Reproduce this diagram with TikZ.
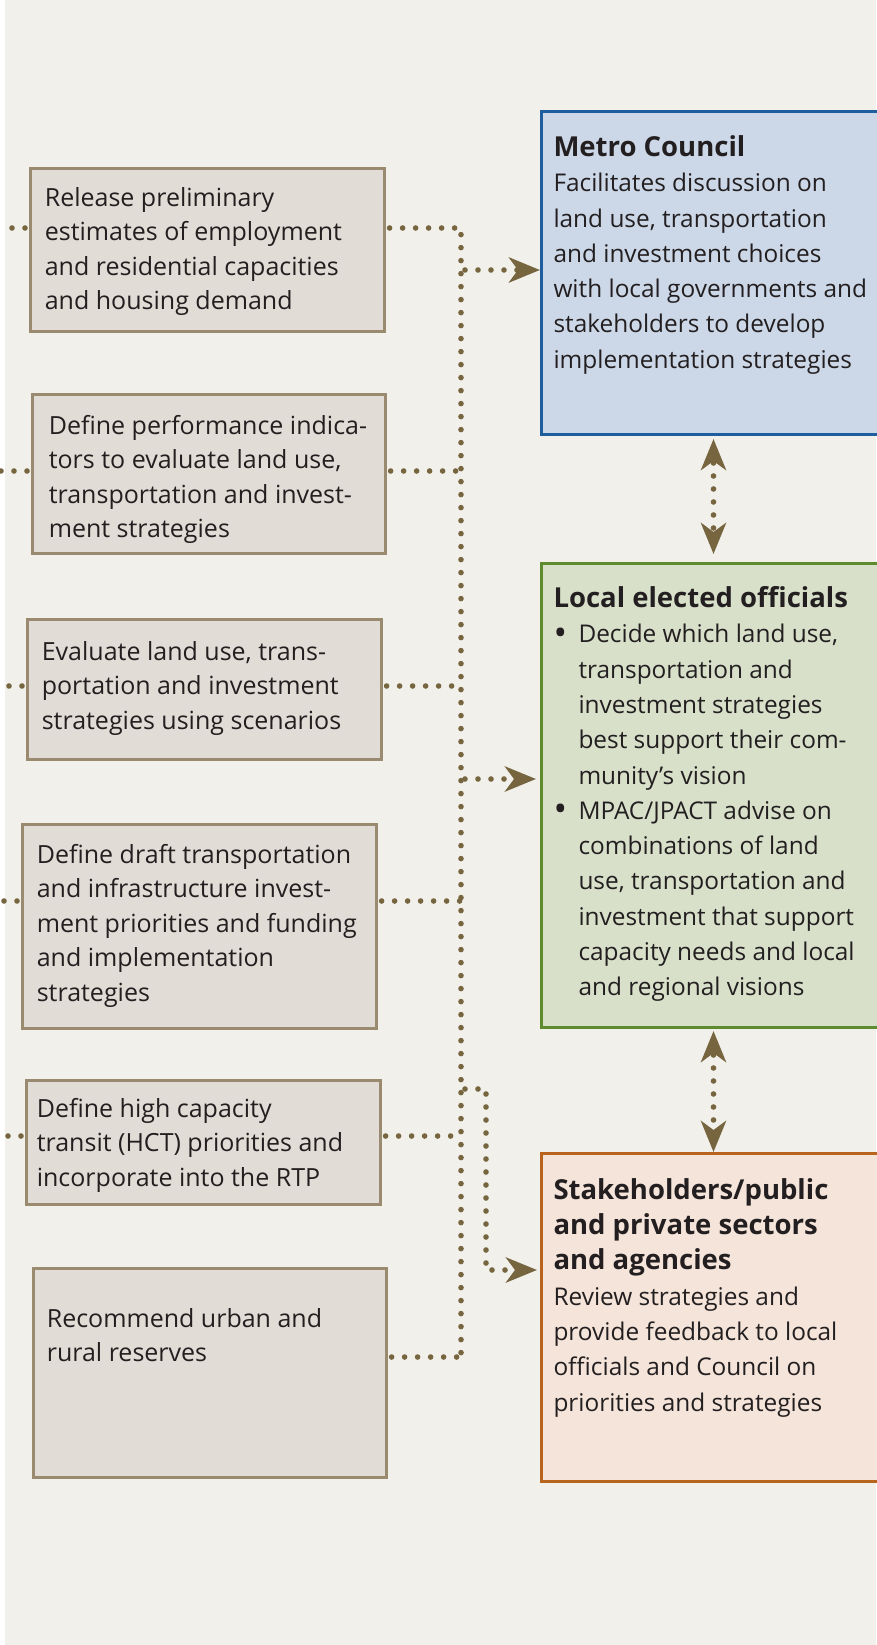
\documentclass[tikz,border=0pt]{standalone}
\usepackage{fontspec}
\setmainfont{Open Sans}
\usetikzlibrary{arrows.meta}
\definecolor{bgcol}{rgb}{0.945, 0.941, 0.922}
\definecolor{stagefill}{rgb}{0.882, 0.867, 0.839}
\definecolor{stageline}{rgb}{0.604, 0.545, 0.439}
\definecolor{dotcol}{rgb}{0.463, 0.396, 0.247}
\definecolor{metrofill}{rgb}{0.8, 0.847, 0.91}
\definecolor{metroline}{rgb}{0.122, 0.369, 0.62}
\definecolor{localfill}{rgb}{0.847, 0.878, 0.792}
\definecolor{localline}{rgb}{0.373, 0.545, 0.184}
\definecolor{stakefill}{rgb}{0.957, 0.894, 0.851}
\definecolor{stakeline}{rgb}{0.722, 0.392, 0.11}
\definecolor{ink}{rgb}{0.137, 0.122, 0.125}

% width, height, first baseline, left pad, text
\newcommand{\boxtext}[5]{\parbox[t][#2][t]{#1}{\raggedright\leftskip=#4\rule{0pt}{#3}#5}}
\newcommand{\head}[1]{{\fontsize{27.5}{35}\selectfont\bfseries #1}}
\newcommand{\bulletitem}{\par\leftskip=37pt\noindent\llap{\makebox[25pt][l]{\fontsize{36}{36}\selectfont\raisebox{-2.6pt}{\textbullet}}}}

\tikzset{
  stagebox/.style={draw=stageline, fill=stagefill, line width=2.6pt, inner sep=0pt,
    anchor=north west, text=ink, font=\fontsize{25}{34.5}\selectfont},
  groupbox/.style={line width=3pt, inner sep=0pt, anchor=north west, text=ink,
    font=\fontsize{24.4}{35.3}\selectfont},
  dotline/.style={draw=dotcol, line width=5.6pt, line cap=round,
    dash pattern=on 0pt off 13pt, dash phase=9pt}
}

\begin{document}
\begin{tikzpicture}[x=1pt, y=-1pt, >={Stealth[length=31pt, width=25pt, inset=9pt]}]
      \useasboundingbox (0, 0) rectangle (876, 1645);
      \fill [bgcol] (0, 0) rectangle (876, 1645);
      \fill [white] (0, 0) rectangle (5, 1645);

      % steps on the left
      \node [stagebox] (release) at (29, 167) {\boxtext{354pt}{163pt}{38pt}{14.5pt}{Release preliminary\\estimates of employment\\and residential capacities\\and housing demand}};
      \node [stagebox] (indicators) at (31, 393) {\boxtext{353pt}{159pt}{40pt}{16.5pt}{Define performance indica-\\tors to evaluate land use,\\transportation and invest-\\ment strategies}};
      \node [stagebox] (scenarios) at (26, 618) {\boxtext{354pt}{140pt}{41pt}{14.5pt}{Evaluate land use, trans-\\portation and investment\\strategies using scenarios}};
      \node [stagebox] (funding) at (21, 823) {\boxtext{354pt}{204pt}{39pt}{14.5pt}{Define draft transportation\\and infrastructure invest-\\ment priorities and funding\\and implementation\\strategies}};
      \node [stagebox] (transit) at (25, 1079) {\boxtext{354pt}{124pt}{37pt}{10.5pt}{Define high capacity\\transit (HCT) priorities and\\incorporate into the RTP}};
      \node [stagebox] (reserves) at (32, 1267) {\boxtext{353pt}{209pt}{59pt}{13.5pt}{Recommend urban and\\rural reserves}};

      % groups on the right
      \node [groupbox, draw=metroline, fill=metrofill] (metro) at (540, 110) {\boxtext{344pt}{323pt}{45pt}{12pt}{\head{Metro Council}\\Facilitates discussion on\\land use, transportation\\and investment choices\\with local governments and\\stakeholders to develop\\implementation strategies}};
      \node [groupbox, draw=localline, fill=localfill] (local) at (540, 562) {\boxtext{344pt}{464pt}{44pt}{12pt}{\head{Local elected officials}\bulletitem Decide which land use,\\transportation and\\investment strategies\\best support their com-\\munity’s vision\bulletitem MPAC/JPACT advise on\\combinations of land\\use, transportation and\\investment that support\\capacity needs and local\\and regional visions}};
      \node [groupbox, draw=stakeline, fill=stakefill] (stake) at (540, 1152) {\boxtext{344pt}{328pt}{46pt}{12pt}{\head{Stakeholders/public\\and private sectors\\and agencies}\\Review strategies and\\provide feedback to local\\officials and Council on\\priorities and strategies}};

      % dotted bus
      \coordinate (bustop) at (461, 228);
      \coordinate (busend) at (461, 1357);
      \coordinate (tometro) at (461, 270);
      \coordinate (tolocal) at (461, 779);
      \coordinate (tostake) at (461, 1089);
      \coordinate (bend) at (486, 1270);
      \coordinate (edge) at (0, 0);

      \draw [dotline] (release.east |- bustop) -- (bustop) -- (busend);
      \draw [dotline] (indicators.east |- 0, 471) -- (bustop |- 0, 471);
      \draw [dotline] (scenarios.east |- 0, 686) -- (bustop |- 0, 686);
      \draw [dotline] (funding.east |- 0, 901) -- (bustop |- 0, 901);
      \draw [dotline] (transit.east |- 0, 1136) -- (bustop |- 0, 1136);
      \draw [dotline] (reserves.east |- busend) -- (busend);

      \draw [dotline, ->] (tometro) -- (metro.west |- tometro);
      \draw [dotline, ->, shorten >=4pt] (tolocal) -- (local.west |- tolocal);
      \draw [dotline, ->, shorten >=3pt] (tostake) -| (bend) -- (stake.west |- bend);

      \draw [dotline, <->, shorten <=3pt, shorten >=8pt] (metro.south) -- (local.north);
      \draw [dotline, <->, shorten <=2pt] (local.south) -- (stake.north);

      % loose ends on the left
      \draw [dotline] (release.west |- bustop) -- (edge |- bustop);
      \draw [dotline] (indicators.west |- 0, 471) -- (edge |- 0, 471);
      \draw [dotline] (scenarios.west |- 0, 686) -- (edge |- 0, 686);
      \draw [dotline] (funding.west |- 0, 901) -- (edge |- 0, 901);
      \draw [dotline] (transit.west |- 0, 1136) -- (edge |- 0, 1136);
    \end{tikzpicture}
\end{document}
